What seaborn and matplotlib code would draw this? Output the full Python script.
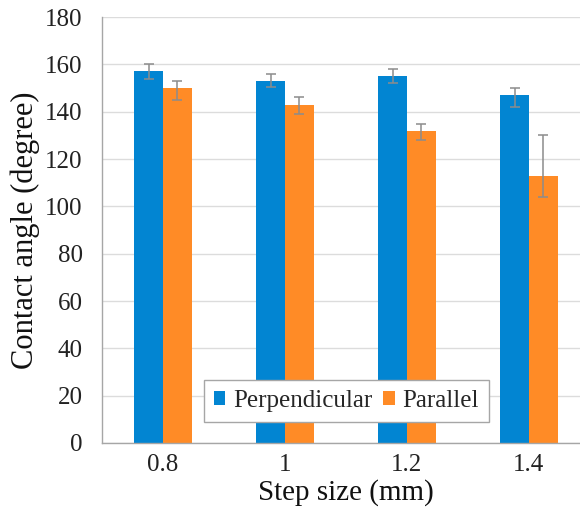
import pandas as pd
import numpy as np
import matplotlib
matplotlib.use('Agg')
import matplotlib.pyplot as plt
import seaborn as sns

# Data
step_sizes = ['0.8', '1', '1.2', '1.4']
perpendicular = [157, 153, 155, 147]
parallel = [150, 143, 132, 113]
# asymmetric error bars (lower, upper)
perp_err_low = [3, 2.5, 3, 5]
perp_err_up = [3, 3, 3, 3]
par_err_low = [5, 4, 4, 9]
par_err_up = [3, 3, 3, 17]

series = ['Perpendicular', 'Parallel']
colors = ['#0285D2', '#FF8B26']

df = pd.DataFrame({
    'step': step_sizes * 2,
    'angle': perpendicular + parallel,
    'series': [series[0]] * 4 + [series[1]] * 4,
})

sns.set_style('white')
plt.rcParams['font.family'] = 'serif'
plt.rcParams['font.serif'] = ['Liberation Serif']

fig = plt.figure(figsize=(5.8, 5.16), dpi=100)
ax = fig.add_axes([0.176, 0.1415, 0.841, 0.8255])

sns.barplot(data=df, x='step', y='angle', hue='series', order=step_sizes,
            hue_order=series, palette=colors, width=0.47, gap=0,
            saturation=1, linewidth=0, errorbar=None, ax=ax, zorder=2)

# error bars placed on the bars seaborn drew
errs = [(perp_err_low, perp_err_up), (par_err_low, par_err_up)]
for cont, (lo, up) in zip(ax.containers, errs):
    xs = [p.get_x() + p.get_width() / 2 for p in cont]
    hs = [p.get_height() for p in cont]
    ax.errorbar(xs, hs, yerr=[lo, up], fmt='none', ecolor='#8c8c8c',
                elinewidth=1.1, capsize=3.5, capthick=1.1, zorder=3)

ax.set_xlim(-0.5, 3.5)
ax.set_ylim(0, 180)
ax.set_yticks(range(0, 181, 20))
ax.yaxis.grid(True, color='#dcdcdc', linewidth=1, zorder=0)
ax.set_axisbelow(True)

for s in ['top', 'right']:
    ax.spines[s].set_visible(False)
for s in ['left', 'bottom']:
    ax.spines[s].set_color('#a6a6a6')
    ax.spines[s].set_linewidth(1)

ax.tick_params(axis='y', length=0, labelsize=18, pad=14, colors='#222222')
ax.tick_params(axis='x', length=0, labelsize=18, pad=8, colors='#222222')
ax.set_xlabel('Step size (mm)', fontsize=21, labelpad=2, color='#111111')
ax.set_ylabel('Contact angle (degree)', fontsize=22, labelpad=4, color='#111111')

leg = ax.legend(loc='lower left', bbox_to_anchor=(0.209, 0.049), fontsize=18,
                frameon=True, fancybox=False, edgecolor='#a6a6a6', framealpha=1,
                handlelength=0.45, handleheight=0.45, handletextpad=0.3,
                columnspacing=0.45, ncol=2, borderpad=0.4, borderaxespad=0)
leg.get_frame().set_linewidth(1)

fig.savefig('out.png', dpi=100)
